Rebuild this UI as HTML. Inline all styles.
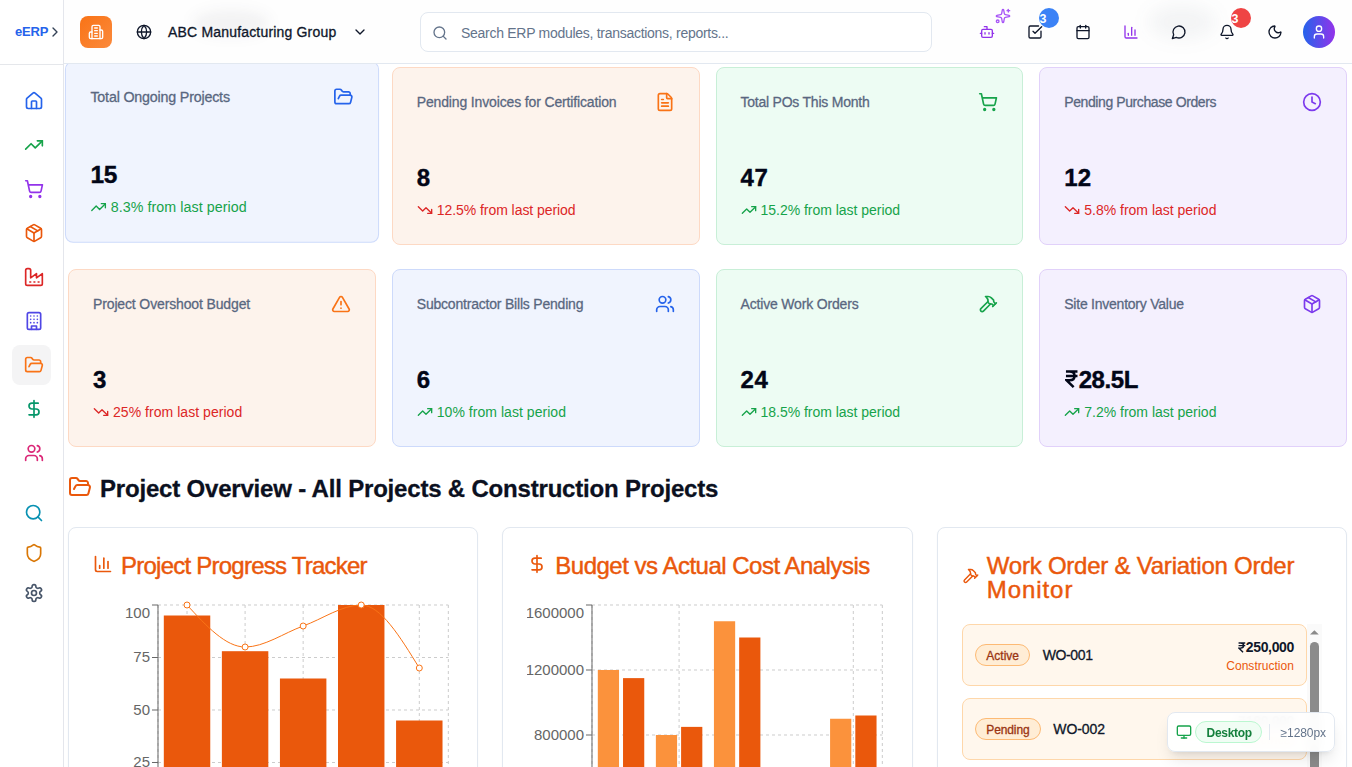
<!DOCTYPE html>
<html lang="en"><head><meta charset="utf-8"><title>eERP Dashboard</title>
<style>
*{box-sizing:border-box;margin:0;padding:0}
html,body{width:1352px;height:767px;overflow:hidden;background:#fff}
body{font-family:"Liberation Sans",sans-serif;color:#0f172a;position:relative;-webkit-font-smoothing:antialiased}
.abs{position:absolute}
/* ---------- sidebar ---------- */
#sidebar{position:absolute;left:0;top:0;width:64px;height:767px;background:#fff;border-right:1px solid #e4e6ec;z-index:30}
#sidehead{position:absolute;left:0;top:0;width:63px;height:65px;border-bottom:1px solid #e5e7eb}
#brand{position:absolute;left:15px;top:22px;height:20px;line-height:20px;font-size:13px;font-weight:700;color:#2563eb}
.sbtn{position:absolute;left:12px;width:39px;height:40px;border-radius:8px;display:flex;align-items:center;justify-content:flex-start;padding-left:12px}
.sbtn.active{background:#f4f4f5}
/* ---------- header ---------- */
#header{position:absolute;left:64px;top:0;width:1288px;height:64px;background:#fefefe;border-bottom:1px solid #e2e8f0;z-index:20}
#logo{position:absolute;left:16px;top:16px;width:32px;height:32px;border-radius:8px;background:linear-gradient(135deg,#f97316 0%,#fb8a3c 100%);display:flex;align-items:center;justify-content:center}
#company{position:absolute;left:104px;top:22px;height:20px;line-height:20px;font-size:14px;color:#0f172a;-webkit-text-stroke:0.3px #0f172a}
#search{position:absolute;left:356px;top:12px;width:512px;height:40px;border:1px solid #e2e8f0;border-radius:8px;background:#fff}
#search .ph{position:absolute;left:40px;top:10px;height:20px;line-height:20px;font-size:14px;color:#64748b}
.hbtn{position:absolute;top:12px;width:40px;height:40px;display:flex;align-items:center;justify-content:center}
.nbadge{position:absolute;top:-4px;right:-3.6px;width:20px;height:20px;border-radius:10px;color:#fff;font-size:12.5px;font-weight:700;line-height:20px;overflow:hidden}
.nbadge span{position:absolute;left:0.8px;top:0.5px}
#avatar{position:absolute;left:1239px;top:16px;width:32px;height:32px;border-radius:16px;background:linear-gradient(to right,#2563eb 0%,#9333ea 100%);display:flex;align-items:center;justify-content:center}
.blob{position:absolute;border-radius:50%;filter:blur(7px)}
/* ---------- stat cards ---------- */
.stat{position:absolute;width:307.75px;height:178px;border:1px solid;border-radius:8px;padding:24px}
.stat .hd{height:20px;display:flex;align-items:center;justify-content:space-between}
.stat .ttl{font-size:14px;line-height:20px;color:#596780;-webkit-text-stroke:0.28px #596780}
.stat .val{margin-top:48px;height:32px;line-height:32px;font-size:24px;font-weight:700;color:#020617;-webkit-text-stroke:0.4px #020617}
.stat .val span{position:relative;top:1.5px}
.stat .chg{margin-top:8px;height:20px;line-height:20px;font-size:14px;display:flex;align-items:center}
.stat .chg span{position:relative;top:0px}
.stat .chg svg{margin-right:4px}
.up{color:#16a34a}.down{color:#dc2626}
.c-blue{background:#f0f4fe;border-color:#cddafb}
.c-orange{background:#fdf3ec;border-color:#fdd9c4}
.c-green{background:#edfcf3;border-color:#c8efd7}
.c-violet{background:#f4f0fe;border-color:#e1d1fa}
.hover{transform:translateY(-4px) scale(1.02)}
/* ---------- section ---------- */
#sec{position:absolute;left:68px;top:471px;height:32px;display:flex;align-items:center}
#sec .h{position:relative;top:1.5px;margin-left:8px;font-size:24px;line-height:32px;font-weight:700;color:#0b1020;-webkit-text-stroke:0.3px #0b1020}
.panel{position:absolute;top:527px;width:410.33px;height:300px;border:1px solid #e2e8f0;border-radius:8px;background:#fff;box-shadow:0 1px 2px rgba(0,0,0,.04)}
.panel .pt{position:absolute;left:24px;top:24px;display:flex;align-items:center;font-size:24px;line-height:24px;color:#ea580c;-webkit-text-stroke:0.45px #ea580c}
.panel .pt .tx{margin-left:8px;position:relative;top:2px}
svg text{font-family:"Liberation Sans",sans-serif}
/* ---------- work orders ---------- */
.wo{position:absolute;left:24.6px;width:344.67px;height:62px;border:1px solid #fed7aa;border-radius:8px;background:#fff7ed}
.wo .bd{position:absolute;left:12px;top:19px;height:22px;border:1px solid #fdba74;background:#ffedd5;border-radius:11px;padding:0 10px;font-size:12px;line-height:21.6px;color:#9a3412;-webkit-text-stroke:0.3px #9a3412}
.wo .bd span{position:relative;top:0.8px}
.wo .id{position:absolute;top:20px;height:20px;line-height:20px;font-size:14px;color:#0f172a;-webkit-text-stroke:0.3px #0f172a}
.wo .amt{position:absolute;right:12px;top:12px;height:20px;line-height:20px;font-size:14px;font-weight:700;color:#0f172a;text-align:right;white-space:nowrap}
.wo .ty{position:absolute;right:12px;top:33px;height:16px;line-height:16px;font-size:12px;color:#ea580c;text-align:right}
/* ---------- device pill ---------- */
#pill{position:absolute;left:1166.6px;top:712px;width:168px;height:39.5px;border:1px solid #e2e8f0;border-radius:8px;background:rgba(255,255,255,.95);backdrop-filter:blur(6px);-webkit-backdrop-filter:blur(6px);box-shadow:0 10px 15px -3px rgba(0,0,0,.10),0 4px 6px -4px rgba(0,0,0,.10);z-index:40}

</style></head>
<body>
<div id="sidebar"><div id="sidehead"><div id="brand"><span id="t_brand" style="letter-spacing:-0.188px;white-space:nowrap">eERP</span></div><div class="abs" style="left:47px;top:24px"><svg width="16" height="16" viewBox="0 0 24 24" fill="none" stroke="#334155" stroke-width="2" stroke-linecap="round" stroke-linejoin="round" style="display:block;"><path d="m9 18 6-6-6-6"/></svg></div></div><div class="sbtn" style="top:81px"><svg width="20" height="20" viewBox="0 0 24 24" fill="none" stroke="#2563eb" stroke-width="2" stroke-linecap="round" stroke-linejoin="round" style="display:block;"><path d="M15 21v-8a1 1 0 0 0-1-1h-4a1 1 0 0 0-1 1v8"/><path d="M3 10a2 2 0 0 1 .709-1.528l7-6a2 2 0 0 1 2.582 0l7 6A2 2 0 0 1 21 10v9a2 2 0 0 1-2 2H5a2 2 0 0 1-2-2z"/></svg></div><div class="sbtn" style="top:125px"><svg width="20" height="20" viewBox="0 0 24 24" fill="none" stroke="#16a34a" stroke-width="2" stroke-linecap="round" stroke-linejoin="round" style="display:block;"><path d="M16 7h6v6"/><path d="m22 7-8.5 8.5-5-5L2 17"/></svg></div><div class="sbtn" style="top:169px"><svg width="20" height="20" viewBox="0 0 24 24" fill="none" stroke="#9333ea" stroke-width="2" stroke-linecap="round" stroke-linejoin="round" style="display:block;"><circle cx="8" cy="21" r="1"/><circle cx="19" cy="21" r="1"/><path d="M2.05 2.05h2l2.66 12.42a2 2 0 0 0 2 1.58h9.78a2 2 0 0 0 1.95-1.57l1.65-7.43H5.12"/></svg></div><div class="sbtn" style="top:213px"><svg width="20" height="20" viewBox="0 0 24 24" fill="none" stroke="#ea580c" stroke-width="2" stroke-linecap="round" stroke-linejoin="round" style="display:block;"><path d="M11 21.73a2 2 0 0 0 2 0l7-4A2 2 0 0 0 21 16V8a2 2 0 0 0-1-1.73l-7-4a2 2 0 0 0-2 0l-7 4A2 2 0 0 0 3 8v8a2 2 0 0 0 1 1.73z"/><path d="M12 22V12"/><polyline points="3.29 7 12 12 20.71 7"/><path d="m7.5 4.27 9 5.15"/></svg></div><div class="sbtn" style="top:257px"><svg width="20" height="20" viewBox="0 0 24 24" fill="none" stroke="#dc2626" stroke-width="2" stroke-linecap="round" stroke-linejoin="round" style="display:block;"><path d="M2 20a2 2 0 0 0 2 2h16a2 2 0 0 0 2-2V8l-7 5V8l-7 5V4a2 2 0 0 0-2-2H4a2 2 0 0 0-2 2Z"/><path d="M17 18h1"/><path d="M12 18h1"/><path d="M7 18h1"/></svg></div><div class="sbtn" style="top:301px"><svg width="20" height="20" viewBox="0 0 24 24" fill="none" stroke="#4f46e5" stroke-width="2" stroke-linecap="round" stroke-linejoin="round" style="display:block;"><rect width="16" height="20" x="4" y="2" rx="2" ry="2"/><path d="M9 22v-4h6v4"/><path d="M8 6h.01"/><path d="M16 6h.01"/><path d="M12 6h.01"/><path d="M12 10h.01"/><path d="M12 14h.01"/><path d="M16 10h.01"/><path d="M16 14h.01"/><path d="M8 10h.01"/><path d="M8 14h.01"/></svg></div><div class="sbtn active" style="top:345px"><svg width="20" height="20" viewBox="0 0 24 24" fill="none" stroke="#f97316" stroke-width="2" stroke-linecap="round" stroke-linejoin="round" style="display:block;"><path d="m6 14 1.5-2.9A2 2 0 0 1 9.24 10H20a2 2 0 0 1 1.94 2.5l-1.54 6a2 2 0 0 1-1.95 1.5H4a2 2 0 0 1-2-2V5a2 2 0 0 1 2-2h3.9a2 2 0 0 1 1.69.9l.81 1.2a2 2 0 0 0 1.67.9H18a2 2 0 0 1 2 2v2"/></svg></div><div class="sbtn" style="top:389px"><svg width="20" height="20" viewBox="0 0 24 24" fill="none" stroke="#059669" stroke-width="2" stroke-linecap="round" stroke-linejoin="round" style="display:block;"><line x1="12" x2="12" y1="2" y2="22"/><path d="M17 5H9.5a3.5 3.5 0 0 0 0 7h5a3.5 3.5 0 0 1 0 7H6"/></svg></div><div class="sbtn" style="top:433px"><svg width="20" height="20" viewBox="0 0 24 24" fill="none" stroke="#db2777" stroke-width="2" stroke-linecap="round" stroke-linejoin="round" style="display:block;"><path d="M16 21v-2a4 4 0 0 0-4-4H6a4 4 0 0 0-4 4v2"/><path d="M16 3.128a4 4 0 0 1 0 7.744"/><path d="M22 21v-2a4 4 0 0 0-3-3.87"/><circle cx="9" cy="7" r="4"/></svg></div><div class="sbtn" style="top:493px"><svg width="20" height="20" viewBox="0 0 24 24" fill="none" stroke="#0891b2" stroke-width="2" stroke-linecap="round" stroke-linejoin="round" style="display:block;"><path d="m21 21-4.34-4.34"/><circle cx="11" cy="11" r="8"/></svg></div><div class="sbtn" style="top:533px"><svg width="20" height="20" viewBox="0 0 24 24" fill="none" stroke="#d97706" stroke-width="2" stroke-linecap="round" stroke-linejoin="round" style="display:block;"><path d="M20 13c0 5-3.5 7.5-7.66 8.95a1 1 0 0 1-.67-.01C7.5 20.5 4 18 4 13V6a1 1 0 0 1 1-1c2 0 4.5-1.2 6.24-2.72a1.17 1.17 0 0 1 1.52 0C14.51 3.81 17 5 19 5a1 1 0 0 1 1 1z"/></svg></div><div class="sbtn" style="top:573px"><svg width="20" height="20" viewBox="0 0 24 24" fill="none" stroke="#475569" stroke-width="2" stroke-linecap="round" stroke-linejoin="round" style="display:block;"><path d="M12.22 2h-.44a2 2 0 0 0-2 2v.18a2 2 0 0 1-1 1.73l-.43.25a2 2 0 0 1-2 0l-.15-.08a2 2 0 0 0-2.73.73l-.22.38a2 2 0 0 0 .73 2.73l.15.1a2 2 0 0 1 1 1.72v.51a2 2 0 0 1-1 1.74l-.15.09a2 2 0 0 0-.73 2.73l.22.38a2 2 0 0 0 2.73.73l.15-.08a2 2 0 0 1 2 0l.43.25a2 2 0 0 1 1 1.73V20a2 2 0 0 0 2 2h.44a2 2 0 0 0 2-2v-.18a2 2 0 0 1 1-1.73l.43-.25a2 2 0 0 1 2 0l.15.08a2 2 0 0 0 2.73-.73l.22-.39a2 2 0 0 0-.73-2.73l-.15-.08a2 2 0 0 1-1-1.74v-.5a2 2 0 0 1 1-1.74l.15-.09a2 2 0 0 0 .73-2.73l-.22-.38a2 2 0 0 0-2.73-.73l-.15.08a2 2 0 0 1-2 0l-.43-.25a2 2 0 0 1-1-1.73V4a2 2 0 0 0-2-2z"/><circle cx="12" cy="12" r="3"/></svg></div></div>
<div id="header"><div class="blob" style="left:128px;top:10px;width:78px;height:26px;background:rgba(30,41,59,.055)"></div><div class="blob" style="left:1084px;top:5px;width:68px;height:34px;background:rgba(71,85,105,.06);filter:blur(9px)"></div><div id="logo"><svg width="16" height="16" viewBox="0 0 24 24" fill="none" stroke="#fff" stroke-width="2" stroke-linecap="round" stroke-linejoin="round" style="display:block;"><path d="M6 22V4a2 2 0 0 1 2-2h8a2 2 0 0 1 2 2v18Z"/><path d="M6 12H4a2 2 0 0 0-2 2v6a2 2 0 0 0 2 2h2"/><path d="M18 9h2a2 2 0 0 1 2 2v9a2 2 0 0 1-2 2h-2"/><path d="M10 6h4"/><path d="M10 10h4"/><path d="M10 14h4"/><path d="M10 18h4"/></svg></div><div class="abs" style="left:72px;top:24px"><svg width="16" height="16" viewBox="0 0 24 24" fill="none" stroke="#0f172a" stroke-width="2" stroke-linecap="round" stroke-linejoin="round" style="display:block;"><circle cx="12" cy="12" r="10"/><path d="M12 2a14.5 14.5 0 0 0 0 20 14.5 14.5 0 0 0 0-20"/><path d="M2 12h20"/></svg></div><div id="company"><span id="t_company" style="letter-spacing:0.181px;white-space:nowrap">ABC Manufacturing Group</span></div><div class="abs" style="left:288px;top:24px"><svg width="16" height="16" viewBox="0 0 24 24" fill="none" stroke="#0f172a" stroke-width="2" stroke-linecap="round" stroke-linejoin="round" style="display:block;"><path d="m6 9 6 6 6-6"/></svg></div><div id="search"><div class="abs" style="left:10.8px;top:11.5px"><svg width="16" height="16" viewBox="0 0 24 24" fill="none" stroke="#64748b" stroke-width="2" stroke-linecap="round" stroke-linejoin="round" style="display:block;"><path d="m21 21-4.34-4.34"/><circle cx="11" cy="11" r="8"/></svg></div><div class="ph"><span id="t_ph" style="letter-spacing:-0.283px;white-space:nowrap">Search ERP modules, transactions, reports...</span></div></div><div class="hbtn" style="left:903px"><svg width="16" height="16" viewBox="0 0 24 24" fill="none" stroke="#9333ea" stroke-width="2" stroke-linecap="round" stroke-linejoin="round" style="display:block;"><path d="M12 8V4H8"/><rect width="16" height="12" x="4" y="8" rx="2"/><path d="M2 14h2"/><path d="M20 14h2"/><path d="M15 13v2"/><path d="M9 13v2"/></svg><div class="abs" style="top:-4px;right:-3.5px"><svg width="16" height="16" viewBox="0 0 24 24" fill="none" stroke="#a855f7" stroke-width="2" stroke-linecap="round" stroke-linejoin="round" style="display:block;"><path d="M11.017 2.814a1 1 0 0 1 1.966 0l1.051 5.558a2 2 0 0 0 1.594 1.594l5.558 1.051a1 1 0 0 1 0 1.966l-5.558 1.051a2 2 0 0 0-1.594 1.594l-1.051 5.558a1 1 0 0 1-1.966 0l-1.051-5.558a2 2 0 0 0-1.594-1.594l-5.558-1.051a1 1 0 0 1 0-1.966l5.558-1.051a2 2 0 0 0 1.594-1.594z"/><path d="M20 2v4"/><path d="M22 4h-4"/><circle cx="4" cy="20" r="2"/></svg></div></div><div class="hbtn" style="left:951px"><svg width="16" height="16" viewBox="0 0 24 24" fill="none" stroke="#0f172a" stroke-width="2" stroke-linecap="round" stroke-linejoin="round" style="display:block;"><path d="M21 10.656V19a2 2 0 0 1-2 2H5a2 2 0 0 1-2-2V5a2 2 0 0 1 2-2h12.344"/><path d="m9 11 3 3L22 4"/></svg><div class="nbadge" style="background:#3b82f6"><span>3</span></div></div><div class="hbtn" style="left:999.2px"><svg width="16" height="16" viewBox="0 0 24 24" fill="none" stroke="#0f172a" stroke-width="2" stroke-linecap="round" stroke-linejoin="round" style="display:block;"><path d="M8 2v4"/><path d="M16 2v4"/><rect width="18" height="18" x="3" y="4" rx="2"/><path d="M3 10h18"/></svg></div><div class="hbtn" style="left:1047px"><svg width="16" height="16" viewBox="0 0 24 24" fill="none" stroke="#9333ea" stroke-width="2" stroke-linecap="round" stroke-linejoin="round" style="display:block;"><path d="M3 3v16a2 2 0 0 0 2 2h16"/><path d="M18 17V9"/><path d="M13 17V5"/><path d="M8 17v-3"/></svg></div><div class="hbtn" style="left:1095px"><svg width="16" height="16" viewBox="0 0 24 24" fill="none" stroke="#0f172a" stroke-width="2" stroke-linecap="round" stroke-linejoin="round" style="display:block;"><path d="M7.9 20A9 9 0 1 0 4 16.1L2 22Z"/></svg></div><div class="hbtn" style="left:1143px"><svg width="16" height="16" viewBox="0 0 24 24" fill="none" stroke="#0f172a" stroke-width="2" stroke-linecap="round" stroke-linejoin="round" style="display:block;"><path d="M10.268 21a2 2 0 0 0 3.464 0"/><path d="M3.262 15.326A1 1 0 0 0 4 17h16a1 1 0 0 0 .74-1.673C19.41 13.956 18 12.499 18 8A6 6 0 0 0 6 8c0 4.499-1.411 5.956-2.738 7.326"/></svg><div class="nbadge" style="background:#ef4444"><span>3</span></div></div><div class="hbtn" style="left:1191px"><svg width="16" height="16" viewBox="0 0 24 24" fill="none" stroke="#0f172a" stroke-width="2" stroke-linecap="round" stroke-linejoin="round" style="display:block;"><path d="M20.985 12.486a9 9 0 1 1-9.473-9.472c.405-.022.617.46.402.803a6 6 0 0 0 8.268 8.268c.344-.215.825-.004.803.401"/></svg></div><div id="avatar"><svg width="16" height="16" viewBox="0 0 24 24" fill="none" stroke="#fff" stroke-width="2" stroke-linecap="round" stroke-linejoin="round" style="display:block;"><path d="M19 21v-2a4 4 0 0 0-4-4H9a4 4 0 0 0-4 4v2"/><circle cx="12" cy="7" r="4"/></svg></div></div>
<div class="stat c-blue hover" style="left:68.0px;top:67px"><div class="hd"><div class="ttl"><span id="t_tt0" style="letter-spacing:-0.190px;white-space:nowrap">Total Ongoing Projects</span></div><svg width="20" height="20" viewBox="0 0 24 24" fill="none" stroke="#2563eb" stroke-width="2" stroke-linecap="round" stroke-linejoin="round" style="display:block;"><path d="m6 14 1.5-2.9A2 2 0 0 1 9.24 10H20a2 2 0 0 1 1.94 2.5l-1.54 6a2 2 0 0 1-1.95 1.5H4a2 2 0 0 1-2-2V5a2 2 0 0 1 2-2h3.9a2 2 0 0 1 1.69.9l.81 1.2a2 2 0 0 0 1.67.9H18a2 2 0 0 1 2 2v2"/></svg></div><div class="val"><span id="t_v0" style="letter-spacing:-0.197px;white-space:nowrap">15</span></div><div class="chg up"><svg width="16" height="16" viewBox="0 0 24 24" fill="none" stroke="#16a34a" stroke-width="2" stroke-linecap="round" stroke-linejoin="round" style="display:block;"><path d="M16 7h6v6"/><path d="m22 7-8.5 8.5-5-5L2 17"/></svg><span id="t_ch0" style="letter-spacing:0.042px;white-space:nowrap">8.3% from last period</span></div></div>
<div class="stat c-orange" style="left:391.75px;top:67px"><div class="hd"><div class="ttl"><span id="t_tt1" style="letter-spacing:-0.145px;white-space:nowrap">Pending Invoices for Certification</span></div><svg width="20" height="20" viewBox="0 0 24 24" fill="none" stroke="#f97316" stroke-width="2" stroke-linecap="round" stroke-linejoin="round" style="display:block;"><path d="M6 22a2 2 0 0 1-2-2V4a2 2 0 0 1 2-2h8a2.4 2.4 0 0 1 1.704.706l3.588 3.588A2.4 2.4 0 0 1 20 8v12a2 2 0 0 1-2 2z"/><path d="M14 2v5a1 1 0 0 0 1 1h5"/><path d="M10 9H8"/><path d="M16 13H8"/><path d="M16 17H8"/></svg></div><div class="val"><span id="t_v1" style="letter-spacing:0.000px;white-space:nowrap">8</span></div><div class="chg down"><svg width="16" height="16" viewBox="0 0 24 24" fill="none" stroke="#dc2626" stroke-width="2" stroke-linecap="round" stroke-linejoin="round" style="display:block;"><path d="M16 17h6v-6"/><path d="m22 17-8.5-8.5-5 5L2 7"/></svg><span id="t_ch1" style="letter-spacing:-0.057px;white-space:nowrap">12.5% from last period</span></div></div>
<div class="stat c-green" style="left:715.5px;top:67px"><div class="hd"><div class="ttl"><span id="t_tt2" style="letter-spacing:-0.231px;white-space:nowrap">Total POs This Month</span></div><svg width="20" height="20" viewBox="0 0 24 24" fill="none" stroke="#16a34a" stroke-width="2" stroke-linecap="round" stroke-linejoin="round" style="display:block;"><circle cx="8" cy="21" r="1"/><circle cx="19" cy="21" r="1"/><path d="M2.05 2.05h2l2.66 12.42a2 2 0 0 0 2 1.58h9.78a2 2 0 0 0 1.95-1.57l1.65-7.43H5.12"/></svg></div><div class="val"><span id="t_v2" style="letter-spacing:0.637px;white-space:nowrap">47</span></div><div class="chg up"><svg width="16" height="16" viewBox="0 0 24 24" fill="none" stroke="#16a34a" stroke-width="2" stroke-linecap="round" stroke-linejoin="round" style="display:block;"><path d="M16 7h6v6"/><path d="m22 7-8.5 8.5-5-5L2 17"/></svg><span id="t_ch2" style="letter-spacing:-0.023px;white-space:nowrap">15.2% from last period</span></div></div>
<div class="stat c-violet" style="left:1039.25px;top:67px"><div class="hd"><div class="ttl"><span id="t_tt3" style="letter-spacing:-0.405px;white-space:nowrap">Pending Purchase Orders</span></div><svg width="20" height="20" viewBox="0 0 24 24" fill="none" stroke="#7c3aed" stroke-width="2" stroke-linecap="round" stroke-linejoin="round" style="display:block;"><path d="M12 6v6l4 2"/><circle cx="12" cy="12" r="10"/></svg></div><div class="val"><span id="t_v3" style="letter-spacing:0.137px;white-space:nowrap">12</span></div><div class="chg down"><svg width="16" height="16" viewBox="0 0 24 24" fill="none" stroke="#dc2626" stroke-width="2" stroke-linecap="round" stroke-linejoin="round" style="display:block;"><path d="M16 17h6v-6"/><path d="m22 17-8.5-8.5-5 5L2 7"/></svg><span id="t_ch3" style="letter-spacing:-0.005px;white-space:nowrap">5.8% from last period</span></div></div>
<div class="stat c-orange" style="left:68.0px;top:269px"><div class="hd"><div class="ttl"><span id="t_tt4" style="letter-spacing:-0.136px;white-space:nowrap">Project Overshoot Budget</span></div><svg width="20" height="20" viewBox="0 0 24 24" fill="none" stroke="#f97316" stroke-width="2" stroke-linecap="round" stroke-linejoin="round" style="display:block;"><path d="m21.73 18-8-14a2 2 0 0 0-3.48 0l-8 14A2 2 0 0 0 4 21h16a2 2 0 0 0 1.73-3"/><path d="M12 9v4"/><path d="M12 17h.01"/></svg></div><div class="val"><span id="t_v4" style="letter-spacing:0.000px;white-space:nowrap">3</span></div><div class="chg down"><svg width="16" height="16" viewBox="0 0 24 24" fill="none" stroke="#dc2626" stroke-width="2" stroke-linecap="round" stroke-linejoin="round" style="display:block;"><path d="M16 17h6v-6"/><path d="m22 17-8.5-8.5-5 5L2 7"/></svg><span id="t_ch4" style="letter-spacing:0.041px;white-space:nowrap">25% from last period</span></div></div>
<div class="stat c-blue" style="left:391.75px;top:269px"><div class="hd"><div class="ttl"><span id="t_tt5" style="letter-spacing:-0.204px;white-space:nowrap">Subcontractor Bills Pending</span></div><svg width="20" height="20" viewBox="0 0 24 24" fill="none" stroke="#2563eb" stroke-width="2" stroke-linecap="round" stroke-linejoin="round" style="display:block;"><path d="M16 21v-2a4 4 0 0 0-4-4H6a4 4 0 0 0-4 4v2"/><path d="M16 3.128a4 4 0 0 1 0 7.744"/><path d="M22 21v-2a4 4 0 0 0-3-3.87"/><circle cx="9" cy="7" r="4"/></svg></div><div class="val"><span id="t_v5" style="letter-spacing:0.000px;white-space:nowrap">6</span></div><div class="chg up"><svg width="16" height="16" viewBox="0 0 24 24" fill="none" stroke="#16a34a" stroke-width="2" stroke-linecap="round" stroke-linejoin="round" style="display:block;"><path d="M16 7h6v6"/><path d="m22 7-8.5 8.5-5-5L2 17"/></svg><span id="t_ch5" style="letter-spacing:0.041px;white-space:nowrap">10% from last period</span></div></div>
<div class="stat c-green" style="left:715.5px;top:269px"><div class="hd"><div class="ttl"><span id="t_tt6" style="letter-spacing:-0.172px;white-space:nowrap">Active Work Orders</span></div><svg width="20" height="20" viewBox="0 0 24 24" fill="none" stroke="#16a34a" stroke-width="2" stroke-linecap="round" stroke-linejoin="round" style="display:block;"><path d="m15 12-8.5 8.5c-.83.83-2.17.83-3 0 0 0 0 0 0 0a2.12 2.12 0 0 1 0-3L12 9"/><path d="M17.64 15 22 10.64"/><path d="m20.91 11.7-1.25-1.25c-.6-.6-.93-1.4-.93-2.25v-.86L16.01 4.6a5.56 5.56 0 0 0-3.94-1.64H9l.92.82A6.18 6.18 0 0 1 12 8.4v1.56l2 2h2.47l2.26 1.91"/></svg></div><div class="val"><span id="t_v6" style="letter-spacing:0.637px;white-space:nowrap">24</span></div><div class="chg up"><svg width="16" height="16" viewBox="0 0 24 24" fill="none" stroke="#16a34a" stroke-width="2" stroke-linecap="round" stroke-linejoin="round" style="display:block;"><path d="M16 7h6v6"/><path d="m22 7-8.5 8.5-5-5L2 17"/></svg><span id="t_ch6" style="letter-spacing:-0.023px;white-space:nowrap">18.5% from last period</span></div></div>
<div class="stat c-violet" style="left:1039.25px;top:269px"><div class="hd"><div class="ttl"><span id="t_tt7" style="letter-spacing:-0.236px;white-space:nowrap">Site Inventory Value</span></div><svg width="20" height="20" viewBox="0 0 24 24" fill="none" stroke="#7c3aed" stroke-width="2" stroke-linecap="round" stroke-linejoin="round" style="display:block;"><path d="M11 21.73a2 2 0 0 0 2 0l7-4A2 2 0 0 0 21 16V8a2 2 0 0 0-1-1.73l-7-4a2 2 0 0 0-2 0l-7 4A2 2 0 0 0 3 8v8a2 2 0 0 0 1 1.73z"/><path d="M12 22V12"/><polyline points="3.29 7 12 12 20.71 7"/><path d="m7.5 4.27 9 5.15"/></svg></div><div class="val"><span id="t_v7" style="letter-spacing:-0.434px;white-space:nowrap"><svg width="13.44" height="24" viewBox="0 0 560 1000" style="display:inline-block;vertical-align:baseline;margin-bottom:-4.80px;margin-left:1px" fill="none" stroke="#020617" stroke-width="105" stroke-linecap="butt" stroke-linejoin="miter"><path d="M40 150H520M40 330H520M40 150H190C330 150 400 230 400 330C400 430 330 510 190 510H60L360 800"/></svg>28.5L</span></div><div class="chg up"><svg width="16" height="16" viewBox="0 0 24 24" fill="none" stroke="#16a34a" stroke-width="2" stroke-linecap="round" stroke-linejoin="round" style="display:block;"><path d="M16 7h6v6"/><path d="m22 7-8.5 8.5-5-5L2 17"/></svg><span id="t_ch7" style="letter-spacing:-0.005px;white-space:nowrap">7.2% from last period</span></div></div>
<div id="sec"><svg width="24" height="24" viewBox="0 0 24 24" fill="none" stroke="#ea580c" stroke-width="2" stroke-linecap="round" stroke-linejoin="round" style="display:block;"><path d="m6 14 1.5-2.9A2 2 0 0 1 9.24 10H20a2 2 0 0 1 1.94 2.5l-1.54 6a2 2 0 0 1-1.95 1.5H4a2 2 0 0 1-2-2V5a2 2 0 0 1 2-2h3.9a2 2 0 0 1 1.69.9l.81 1.2a2 2 0 0 0 1.67.9H18a2 2 0 0 1 2 2v2"/></svg><div class="h"><span id="t_sech" style="letter-spacing:-0.190px;white-space:nowrap">Project Overview - All Projects &amp; Construction Projects</span></div></div>
<div class="panel" style="left:68px"><div class="pt"><svg width="20" height="20" viewBox="0 0 24 24" fill="none" stroke="#ea580c" stroke-width="2" stroke-linecap="round" stroke-linejoin="round" style="display:block;"><path d="M3 3v16a2 2 0 0 0 2 2h16"/><path d="M18 17V9"/><path d="M13 17V5"/><path d="M8 17v-3"/></svg><div class="tx"><span id="t_p1" style="letter-spacing:-0.763px;white-space:nowrap">Project Progress Tracker</span></div></div><svg class="abs" style="left:24px;top:72px;overflow:hidden" width="360.33" height="250" viewBox="0 0 360.33 250"><g stroke="#ccc" stroke-width="1" stroke-dasharray="3 3" fill="none"><line x1="65" y1="5" x2="355.33" y2="5"/><line x1="65" y1="57.5" x2="355.33" y2="57.5"/><line x1="65" y1="110" x2="355.33" y2="110"/><line x1="65" y1="162.5" x2="355.33" y2="162.5"/><line x1="65" y1="215" x2="355.33" y2="215"/><line x1="65" y1="5" x2="65" y2="215"/><line x1="94.03" y1="5" x2="94.03" y2="215"/><line x1="152.1" y1="5" x2="152.1" y2="215"/><line x1="210.16" y1="5" x2="210.16" y2="215"/><line x1="268.23" y1="5" x2="268.23" y2="215"/><line x1="326.3" y1="5" x2="326.3" y2="215"/><line x1="355.33" y1="5" x2="355.33" y2="215"/></g><g fill="#ea580c"><rect x="70.81" y="15.5" width="46.45" height="199.5"/><rect x="128.87" y="51.2" width="46.45" height="163.8"/><rect x="186.94" y="78.5" width="46.45" height="136.5"/><rect x="245" y="5" width="46.45" height="210"/><rect x="303.07" y="120.5" width="46.45" height="94.5"/></g><g stroke="#666" stroke-width="1" fill="none"><line x1="65" y1="5" x2="65" y2="215"/><line x1="59" y1="5" x2="65" y2="5"/><line x1="59" y1="57.5" x2="65" y2="57.5"/><line x1="59" y1="110" x2="65" y2="110"/><line x1="59" y1="162.5" x2="65" y2="162.5"/><line x1="59" y1="215" x2="65" y2="215"/></g><g fill="#666" font-size="15" text-anchor="end"><text x="57" y="17.6">100</text><text x="57" y="62.4">75</text><text x="57" y="114.9">50</text><text x="57" y="167.4">25</text><text x="57" y="219.9">0</text></g><path d="M94.03,5C113.39,26,132.74,47,152.1,47C171.45,47,190.81,33,210.16,26C229.52,19,248.88,5,268.23,5C287.59,5,306.94,36.5,326.3,68" fill="none" stroke="#f97316" stroke-width="1"/><g fill="#fff" stroke="#f97316" stroke-width="1"><circle cx="94.03" cy="5" r="3"/><circle cx="152.1" cy="47" r="3"/><circle cx="210.16" cy="26" r="3"/><circle cx="268.23" cy="5" r="3"/><circle cx="326.3" cy="68" r="3"/></g></svg></div>
<div class="panel" style="left:502.33px"><div class="pt"><svg width="20" height="20" viewBox="0 0 24 24" fill="none" stroke="#ea580c" stroke-width="2" stroke-linecap="round" stroke-linejoin="round" style="display:block;"><line x1="12" x2="12" y1="2" y2="22"/><path d="M17 5H9.5a3.5 3.5 0 0 0 0 7h5a3.5 3.5 0 0 1 0 7H6"/></svg><div class="tx"><span id="t_p2" style="letter-spacing:-0.503px;white-space:nowrap">Budget vs Actual Cost Analysis</span></div></div><svg class="abs" style="left:24px;top:72px;overflow:hidden" width="360.33" height="300" viewBox="0 0 360.33 300"><g stroke="#ccc" stroke-width="1" stroke-dasharray="3 3" fill="none"><line x1="65" y1="5" x2="355.34" y2="5"/><line x1="65" y1="70" x2="355.34" y2="70"/><line x1="65" y1="135" x2="355.34" y2="135"/><line x1="65" y1="200" x2="355.34" y2="200"/><line x1="65" y1="265" x2="355.34" y2="265"/><line x1="65" y1="5" x2="65" y2="265"/><line x1="152.1" y1="5" x2="152.1" y2="265"/><line x1="326.31" y1="5" x2="326.31" y2="265"/><line x1="355.34" y1="5" x2="355.34" y2="265"/></g><g fill="#fb923c"><rect x="70.81" y="70" width="21.23" height="195"/><rect x="128.87" y="135" width="21.23" height="130"/><rect x="186.94" y="21.25" width="21.23" height="243.75"/><rect x="245.01" y="167.5" width="21.23" height="97.5"/><rect x="303.08" y="118.75" width="21.23" height="146.25"/></g><g fill="#ea580c"><rect x="96.03" y="78.12" width="21.23" height="186.88"/><rect x="154.1" y="126.88" width="21.23" height="138.12"/><rect x="212.17" y="37.5" width="21.23" height="227.5"/><rect x="270.24" y="170.75" width="21.23" height="94.25"/><rect x="328.31" y="115.5" width="21.23" height="149.5"/></g><g stroke="#666" stroke-width="1" fill="none"><line x1="65" y1="5" x2="65" y2="265"/><line x1="59" y1="5" x2="65" y2="5"/><line x1="59" y1="70" x2="65" y2="70"/><line x1="59" y1="135" x2="65" y2="135"/><line x1="59" y1="200" x2="65" y2="200"/><line x1="59" y1="265" x2="65" y2="265"/></g><g fill="#666" font-size="15" text-anchor="end"><text x="57" y="18">1600000</text><text x="57" y="75.4">1200000</text><text x="57" y="140.4">800000</text><text x="57" y="205.4">400000</text><text x="57" y="270.4">0</text></g></svg></div>
<div class="panel" style="left:936.67px"><div class="pt" style="align-items:center;height:48px"><svg width="17.2" height="20" viewBox="0 0 24 24" fill="none" stroke="#ea580c" stroke-width="2" stroke-linecap="round" stroke-linejoin="round" style="display:block;"><path d="m15 12-8.5 8.5c-.83.83-2.17.83-3 0 0 0 0 0 0 0a2.12 2.12 0 0 1 0-3L12 9"/><path d="M17.64 15 22 10.64"/><path d="m20.91 11.7-1.25-1.25c-.6-.6-.93-1.4-.93-2.25v-.86L16.01 4.6a5.56 5.56 0 0 0-3.94-1.64H9l.92.82A6.18 6.18 0 0 1 12 8.4v1.56l2 2h2.47l2.26 1.91"/></svg><div class="tx"><span id="t_p3a" style="letter-spacing:-0.231px;white-space:nowrap">Work Order &amp; Variation Order</span><br><span id="t_p3b" style="letter-spacing:0.918px;white-space:nowrap">Monitor</span></div></div><div class="wo" style="top:95.9px"><div class="bd"><span id="t_wb0" style="letter-spacing:0.020px;white-space:nowrap">Active</span></div><div class="id" style="left:79.5px"><span id="t_wi0" style="letter-spacing:-0.387px;white-space:nowrap">WO-001</span></div><div class="amt"><span id="t_wa0" style="letter-spacing:-0.364px;white-space:nowrap"><svg width="7.84" height="14" viewBox="0 0 560 1000" style="display:inline-block;vertical-align:baseline;margin-bottom:-2.80px;margin-left:0px" fill="none" stroke="#0f172a" stroke-width="105" stroke-linecap="butt" stroke-linejoin="miter"><path d="M40 150H520M40 330H520M40 150H190C330 150 400 230 400 330C400 430 330 510 190 510H60L360 800"/></svg>250,000</span></div><div class="ty"><span id="t_wt0" style="letter-spacing:0.020px;white-space:nowrap">Construction</span></div></div><div class="wo" style="top:170.2px"><div class="bd"><span id="t_wb1" style="letter-spacing:-0.109px;white-space:nowrap">Pending</span></div><div class="id" style="left:90.1px"><span id="t_wi1" style="letter-spacing:-0.087px;white-space:nowrap">WO-002</span></div><div class="amt"><span id="t_wa1" style="letter-spacing:-0.364px;white-space:nowrap"><svg width="7.84" height="14" viewBox="0 0 560 1000" style="display:inline-block;vertical-align:baseline;margin-bottom:-2.80px;margin-left:0px" fill="none" stroke="#0f172a" stroke-width="105" stroke-linecap="butt" stroke-linejoin="miter"><path d="M40 150H520M40 330H520M40 150H190C330 150 400 230 400 330C400 430 330 510 190 510H60L360 800"/></svg>180,000</span></div><div class="ty"><span id="t_wt1" style="letter-spacing:0.278px;white-space:nowrap">Electrical</span></div></div><div class="wo" style="top:244.5px"><div class="bd"><span id="t_wb2" style="letter-spacing:0.020px;white-space:nowrap">Active</span></div><div class="id" style="left:79.5px"><span id="t_wi2" style="letter-spacing:-0.087px;white-space:nowrap">WO-003</span></div><div class="amt"><span id="t_wa2" style="letter-spacing:-0.364px;white-space:nowrap"><svg width="7.84" height="14" viewBox="0 0 560 1000" style="display:inline-block;vertical-align:baseline;margin-bottom:-2.80px;margin-left:0px" fill="none" stroke="#0f172a" stroke-width="105" stroke-linecap="butt" stroke-linejoin="miter"><path d="M40 150H520M40 330H520M40 150H190C330 150 400 230 400 330C400 430 330 510 190 510H60L360 800"/></svg>320,000</span></div><div class="ty"><span id="t_wt2" style="letter-spacing:-0.120px;white-space:nowrap">Plumbing</span></div></div><div class="abs" style="left:369.3px;top:96px;width:15px;height:260px;background:#fafafa"></div><svg class="abs" style="left:369.3px;top:96.7px" width="15" height="15" viewBox="0 0 15 15"><path d="M3 9.6 L7.4 5.2 L11.8 9.6Z" fill="#8a8a8a"/></svg><div class="abs" style="left:372.3px;top:113.6px;width:9px;height:240px;border-radius:4.5px;background:#8b8b8b"></div></div>
<div id="pill"><div class="abs" style="left:8px;top:10.5px"><svg width="16" height="16" viewBox="0 0 24 24" fill="none" stroke="#16a34a" stroke-width="2" stroke-linecap="round" stroke-linejoin="round" style="display:block;"><rect width="20" height="14" x="2" y="3" rx="2"/><line x1="8" x2="16" y1="21" y2="21"/><line x1="12" x2="12" y1="17" y2="21"/></svg></div><div class="abs" style="left:27px;top:7.8px;width:67px;height:22px;border:1px solid #bbf7d0;border-radius:11px;background:#f0fdf4;font-size:12px;font-weight:700;line-height:23.2px;color:#15803d;padding-left:11px"><span id="t_pd" style="letter-spacing:-0.292px;white-space:nowrap">Desktop</span></div><div class="abs" style="left:101.5px;top:10.5px;width:1px;height:16px;background:#e2e8f0"></div><div class="abs" style="left:113px;top:12.2px;height:16px;line-height:16px;font-size:12px;color:#64748b"><span id="t_pw" style="letter-spacing:-0.096px;white-space:nowrap">≥1280px</span></div></div>
</body></html>
